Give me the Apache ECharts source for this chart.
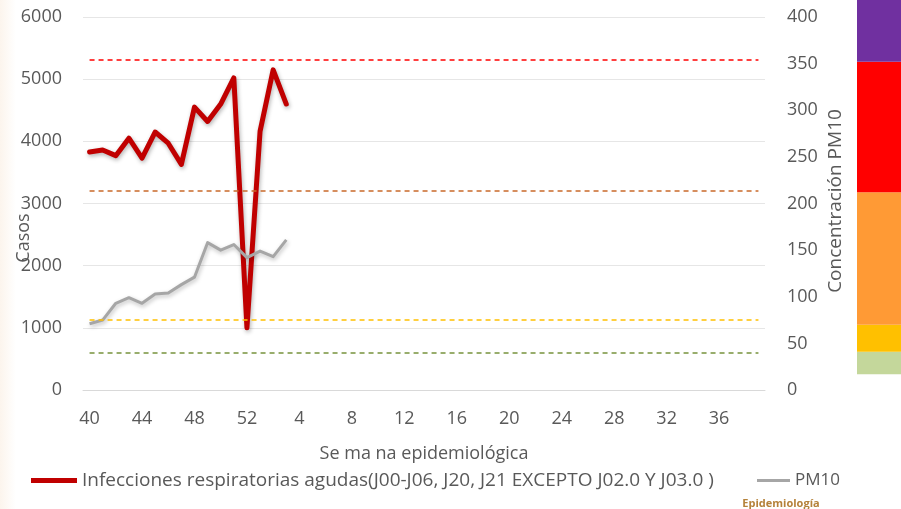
<!DOCTYPE html>
<html>
<head>
<meta charset="utf-8">
<script src="https://cdn.jsdelivr.net/npm/echarts@6/dist/echarts.min.js"></script>
<style>
  html, body { margin: 0; padding: 0; background: #ffffff; }
  #chart { width: 901px; height: 509px; }
</style>
</head>
<body>
<div id="chart"></div>
<script>
// Semanas epidemiológicas (40 a 52 y 1 a 39)
const weeks = [40, 41, 42, 43, 44, 45, 46, 47, 48, 49, 50, 51, 52,
  1, 2, 3, 4, 5, 6, 7, 8, 9, 10, 11, 12, 13, 14, 15, 16, 17, 18, 19, 20,
  21, 22, 23, 24, 25, 26, 27, 28, 29, 30, 31, 32, 33, 34, 35, 36, 37, 38, 39];

// Casos de infecciones respiratorias agudas por semana
const iraCases = [3830, 3860, 3770, 4050, 3730, 4150, 3970, 3630, 4550, 4320,
  4600, 5020, 1000, 4160, 5150, 4600];

// Concentración de PM10 por semana
const pm10 = [71, 75, 93, 99, 93, 103, 104, 113, 121, 158, 150, 156, 142, 149,
  143, 161];

// Umbrales de calidad del aire para PM10 (líneas punteadas)
const thresholdValues = [40, 75, 214, 354];
const thresholdColors = ['#77933C', '#FFC000', '#C9692A', '#FF0000'];

// Bandas de la barra de color a la derecha (límites en escala PM10)
const bandEdges = [17, 41, 70, 212, 352, 430];
const bandColors = ['#C4D79B', '#FFC000', '#FF9A35', '#FF0000', '#7030A0'];

const leftTicks = { min: 0, max: 6000, interval: 1000 };
const rightTicks = { min: 0, max: 400, interval: 50 };

const iraName = 'Infecciones respiratorias agudas(J00-J06, J20, J21 EXCEPTO J02.0 Y J03.0 )';
const pmName = 'PM10';

const textColor = '#595959';
const fontFamily = '"Open Sans", "DejaVu Sans", sans-serif';

const chart = echarts.init(document.getElementById('chart'), null, { renderer: 'canvas' });

const thresholdLines = thresholdValues.map((v, i) => ([
  { coord: [0, v], lineStyle: { color: thresholdColors[i] } },
  { coord: [weeks.length - 1, v] }
]));

chart.setOption({
  backgroundColor: '#ffffff',
  animation: false,
  textStyle: { fontFamily: fontFamily, color: textColor },
  grid: { left: 83, right: 136, top: 17, bottom: 119 },
  legend: [
    {
      data: [iraName],
      left: 26, top: 466,
      icon: 'rect', itemWidth: 46, itemHeight: 5,
      textStyle: { color: textColor, fontSize: 19, fontFamily: fontFamily },
      selectedMode: false
    },
    {
      data: [pmName],
      left: 752, top: 467,
      icon: 'rect', itemWidth: 33, itemHeight: 3,
      textStyle: { color: textColor, fontSize: 17, fontFamily: fontFamily },
      selectedMode: false
    }
  ],
  xAxis: {
    type: 'category',
    data: weeks,
    boundaryGap: true,
    name: 'Se ma na epidemiológica',
    nameLocation: 'middle',
    nameGap: 55,
    nameTextStyle: { fontSize: 18, color: textColor },
    axisLine: { show: true, lineStyle: { color: '#D9D9D9', width: 1 } },
    axisTick: { show: false },
    axisLabel: { interval: 3, fontSize: 18, color: textColor, margin: 20 }
  },
  yAxis: [
    {
      type: 'value',
      min: leftTicks.min, max: leftTicks.max, interval: leftTicks.interval,
      axisLine: { show: false },
      axisTick: { show: false },
      axisLabel: { fontSize: 18, color: textColor, margin: 21, formatter: (v) => String(v) },
      splitLine: { show: true, lineStyle: { color: '#E6E6E6', width: 1 } }
    },
    {
      type: 'value',
      min: rightTicks.min, max: rightTicks.max, interval: rightTicks.interval,
      axisLine: { show: false },
      axisTick: { show: false },
      axisLabel: { fontSize: 18, color: textColor, margin: 22 },
      splitLine: { show: false }
    }
  ],
  series: [
    {
      name: iraName,
      type: 'line',
      yAxisIndex: 0,
      data: iraCases,
      showSymbol: false,
      symbol: 'none',
      color: '#C00000',
      lineStyle: {
        width: 5, color: '#C00000', join: 'round', cap: 'round',
        shadowColor: 'rgba(0,0,0,0.3)', shadowBlur: 4, shadowOffsetX: 1, shadowOffsetY: 2
      },
      z: 3
    },
    {
      name: pmName,
      type: 'line',
      yAxisIndex: 1,
      data: pm10,
      showSymbol: false,
      symbol: 'none',
      color: '#A6A6A6',
      lineStyle: {
        width: 3, color: '#A6A6A6', join: 'round',
        shadowColor: 'rgba(0,0,0,0.25)', shadowBlur: 4, shadowOffsetX: 1, shadowOffsetY: 2
      },
      markLine: {
        silent: true,
        symbol: 'none',
        label: { show: false },
        lineStyle: { type: [5, 4], width: 1.5 },
        data: thresholdLines
      },
      z: 4
    }
  ]
});

// Barra de color de calidad del aire, rótulos de ejes y fondo tenue
function drawExtras() {
  const elements = [];
  elements.push({
    type: 'rect',
    silent: true,
    z: -10,
    shape: { x: 0, y: 0, width: 16, height: 509 },
    style: {
      fill: new echarts.graphic.LinearGradient(0, 0, 1, 0, [
        { offset: 0, color: 'rgba(248,232,215,0.45)' },
        { offset: 1, color: 'rgba(248,232,215,0)' }
      ])
    }
  });
  for (let i = 0; i < bandColors.length; i++) {
    const yBottom = chart.convertToPixel({ yAxisIndex: 1 }, bandEdges[i]);
    const yTop = Math.max(0, chart.convertToPixel({ yAxisIndex: 1 }, bandEdges[i + 1]));
    elements.push({
      type: 'rect',
      silent: true,
      shape: { x: 857, y: yTop, width: 44, height: yBottom - yTop },
      style: { fill: bandColors[i] }
    });
  }
  elements.push({
    type: 'text',
    silent: true,
    x: 24, y: 238, rotation: Math.PI / 2,
    style: {
      text: 'Casos', fill: textColor, font: '18px ' + fontFamily,
      align: 'center', verticalAlign: 'middle'
    }
  });
  elements.push({
    type: 'text',
    silent: true,
    x: 836, y: 201, rotation: Math.PI / 2,
    style: {
      text: 'Concentración PM10', fill: textColor, font: '19px ' + fontFamily,
      align: 'center', verticalAlign: 'middle'
    }
  });
  elements.push({
    type: 'text',
    silent: true,
    x: 781, y: 498,
    style: {
      text: 'Epidemiología', fill: '#B5823A', font: 'bold 11px ' + fontFamily,
      align: 'center', verticalAlign: 'top'
    }
  });
  chart.setOption({ graphic: { elements: elements } });
}
drawExtras();
</script>
</body>
</html>
